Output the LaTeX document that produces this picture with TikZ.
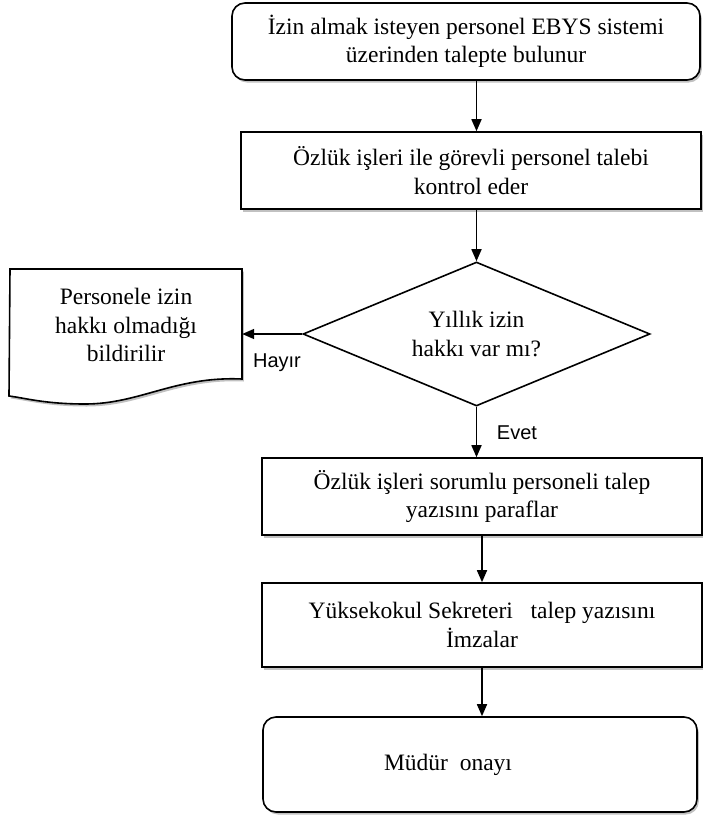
\documentclass[tikz,border=0pt]{standalone}
\usepackage{fontspec}
\setmainfont{Liberation Serif}
\newfontfamily\sansf{Liberation Sans}
\usetikzlibrary{shapes.geometric,arrows.meta,shadows}
\tikzset{
  shad/.style={drop shadow={shadow xshift=1.8pt,shadow yshift=-2.5pt,opacity=0.35,fill=black!70}},
  procbox/.style={draw,line width=1.6pt,fill=white,shad,inner sep=0pt,align=center,
     font=\fontsize{23.5}{28.5}\selectfont},
  roundbox/.style={procbox,rounded corners=13pt},
  decision/.style={draw,line width=1.6pt,diamond,aspect=2.4,inner sep=0pt,align=center,
     font=\fontsize{23.5}{28.5}\selectfont},
  txt/.style={inner sep=0pt,align=center,font=\fontsize{23.5}{28.5}\selectfont},
  lbl/.style={inner sep=0pt,font=\sansf\fontsize{20}{24}\selectfont},
  arr/.style={line width=1.7pt,-{Triangle[width=10pt,length=12pt]}},
  docshape/.style={draw,line width=1.6pt,fill=white,shad}
}
\begin{document}
\begin{tikzpicture}[x=1pt,y=-1pt]
\useasboundingbox (0,0) rectangle (702,819);
\node[roundbox,minimum width=468pt,minimum height=77pt] (b1) at (466,41.5)
  {İzin almak isteyen personel EBYS sistemi\\üzerinden talepte bulunur};
\node[procbox,minimum width=460pt,minimum height=77pt] (b2) at (471,170.5)
  {Özlük işleri ile görevli personel talebi\\kontrol eder};
\node[decision,minimum width=347pt,minimum height=144pt] (dia) at (476.5,334)
  {Yıllık izin\\hakkı var mı?};
\draw[docshape] (10,269) -- (242,269) -- (242,379)
  .. controls (175,376) and (140,404) .. (85,404)
  .. controls (45,404) and (25,398) .. (9,396) -- cycle;
\node[txt,minimum width=232pt,minimum height=110pt] (doc) at (126,325)
  {Personele izin\\hakkı olmadığı\\bildirilir};
\node[procbox,minimum width=440pt,minimum height=77pt] (b3) at (482,496.5)
  {Özlük işleri sorumlu personeli talep\\yazısını paraflar};
\node[procbox,minimum width=440pt,minimum height=84pt] (b4) at (482,625)
  {Yüksekokul Sekreteri\ \ \ talep yazısını\\İmzalar};
\node[roundbox,minimum width=434pt,minimum height=95pt] (b5) at (480,764.5) {};
\node[txt] (b5t) at (448,765) {Müdür\ \ onayı};
\draw[arr] (b1.south -| dia.north) -- (b2.north -| dia.north);
\draw[arr] (b2.south -| dia.north) -- (dia.north);
\draw[arr] (dia.west) -- (dia.west -| doc.east);
\draw[arr] (dia.south) -- (dia.south |- b3.north);
\draw[arr] (b3.south) -- (b4.north);
\draw[arr] (b4.south) -- (b4.south |- b5.north);
\node[lbl] (hayir) at (277,363) {Hayır};
\node[lbl] (evet) at (517,433) {Evet};
\end{tikzpicture}
\end{document}
